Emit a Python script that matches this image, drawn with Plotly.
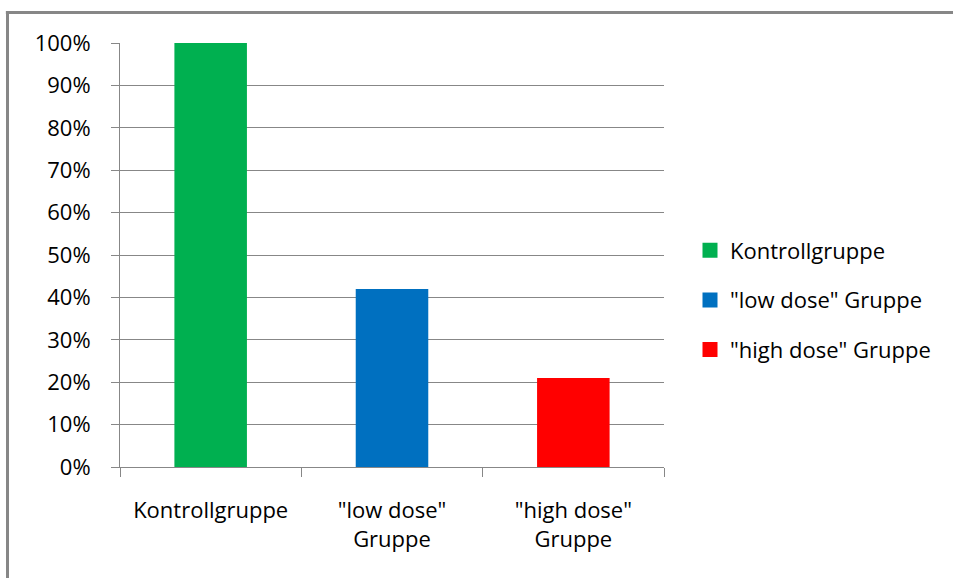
import plotly.graph_objects as go

# Data
categories = ["Kontrollgruppe", "\"low dose\"<br>Gruppe", "\"high dose\"<br>Gruppe"]
series_names = ["Kontrollgruppe", "\"low dose\" Gruppe", "\"high dose\" Gruppe"]
values = [1.00, 0.42, 0.21]
colors = ["#00B050", "#0070C0", "#FF0000"]
y_ticks = [0, 0.1, 0.2, 0.3, 0.4, 0.5, 0.6, 0.7, 0.8, 0.9, 1.0]

FONT = "Open Sans"
FSIZE = 22
GRID = "#878787"

# plot area geometry (px)
W, H = 953, 578
L, R, T, B = 120, 289, 43, 111
pw, ph = W - L - R, H - T - B

fig = go.Figure()

for cat, name, val, col in zip(categories, series_names, values, colors):
    fig.add_trace(go.Bar(
        x=[cat], y=[val], width=0.4, marker=dict(color=col, line=dict(width=0)),
        name=name, showlegend=False, hoverinfo="skip",
    ))

# legend entries with larger square keys
for i, (name, col) in enumerate(zip(series_names, colors)):
    fig.add_trace(go.Scatter(
        x=[None], y=[None], mode="markers", name=name,
        marker=dict(symbol="square", size=15, color=col, line=dict(width=0)),
        legendgroup=f"g{i}",
    ))


def px_to_paper_x(px):
    return (px - L) / pw


def px_to_paper_y(py):
    return (H - B - py) / ph


# chart frame (left and top edges)
frame_x = px_to_paper_x(7.5)
frame_y = px_to_paper_y(12.5)
fig.add_shape(type="line", xref="paper", yref="paper",
              x0=frame_x, x1=frame_x, y0=frame_y, y1=px_to_paper_y(H + 5),
              line=dict(color=GRID, width=3))
fig.add_shape(type="line", xref="paper", yref="paper",
              x0=frame_x - 0.003, x1=px_to_paper_x(W + 5), y0=frame_y, y1=frame_y,
              line=dict(color=GRID, width=3))

fig.update_layout(
    width=W, height=H,
    margin=dict(l=L, r=R, t=T, b=B, pad=0),
    paper_bgcolor="white", plot_bgcolor="white",
    font=dict(family=FONT, size=FSIZE, color="#000000"),
    barmode="overlay",
    legend=dict(x=px_to_paper_x(690), y=px_to_paper_y(300), xanchor="left", yanchor="middle",
                font=dict(family=FONT, size=FSIZE, color="#000000"),
                tracegroupgap=18, itemwidth=30, bgcolor="rgba(0,0,0,0)"),
    showlegend=True,
)

fig.update_yaxes(
    range=[0, 1], tickvals=y_ticks, tickformat=".0%",
    showgrid=True, gridcolor=GRID, gridwidth=1,
    showline=True, linecolor=GRID, linewidth=1,
    ticks="outside", ticklen=8, tickcolor=GRID, tickwidth=1,
    ticklabelstandoff=16, zeroline=False,
    tickfont=dict(family=FONT, size=FSIZE, color="#000000"),
)
fig.update_xaxes(
    type="category", categoryarray=categories, categoryorder="array",
    showline=True, linecolor=GRID, linewidth=1,
    ticks="outside", ticklen=9, tickcolor=GRID, tickwidth=1,
    tickson="boundaries", showgrid=False,
    ticklabelstandoff=24,
    tickfont=dict(family=FONT, size=FSIZE, color="#000000"),
)

fig.write_html("out.html")
